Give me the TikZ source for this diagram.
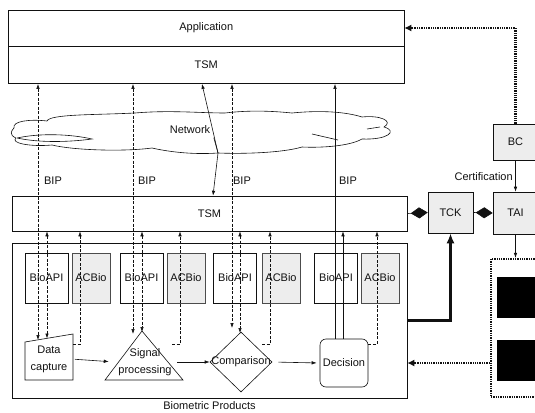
\documentclass[tikz,border=0pt]{standalone}
\usepackage{fontspec}
\setmainfont{Liberation Sans}
\usetikzlibrary{positioning,arrows.meta,calc,shapes.geometric}
\definecolor{speckle}{HTML}{EDEDED}
\definecolor{inkline}{HTML}{111111}

\tikzset{
  every node/.style={font=\fontsize{11}{12}\selectfont},
  layerbox/.style={draw, minimum width=395pt, inner sep=0pt},
  apibox/.style={draw, minimum width=43pt, minimum height=50pt, inner sep=0pt},
  acbox/.style={draw=black!70, fill=speckle, minimum width=38pt, minimum height=50pt, inner sep=0pt},
  keybox/.style={draw, fill=speckle, minimum width=45pt, inner sep=0pt},
  onearrow/.style={-{Latex[length=5pt,width=3.5pt]}},
  twoarrow/.style={{Latex[length=5pt,width=3.5pt]}-{Latex[length=5pt,width=3.5pt]}},
  bipdash/.style={dash pattern=on 3pt off 1.5pt},
  dotline/.style={line width=2.2pt, dash pattern=on 1.3pt off 1pt},
  twoline/.style={align=center, font=\fontsize{11}{17}\selectfont},
}

\begin{document}
\begin{tikzpicture}[x=1pt, y=-1pt, line width=0.6pt, color=inkline]
  \useasboundingbox (0,0) rectangle (535,412);

  % application side
  \node[layerbox, minimum width=395.5pt, minimum height=36pt] (app) at (206.25,28) {Application};
  \node[layerbox, minimum width=395.5pt, minimum height=37pt, below=0pt of app] (tsmup) {TSM};

  % network cloud
  \draw (14,128) .. controls (12,121) and (30,119) .. (47,121)
        .. controls (50,114) and (95,115) .. (135,113)
        .. controls (170,110) and (200,113) .. (225,113)
        .. controls (250,110) and (272,111) .. (292,113)
        .. controls (322,110) and (346,112) .. (362,117)
        .. controls (380,115) and (394,121) .. (384,127)
        .. controls (398,131) and (388,140) .. (362,139)
        .. controls (350,146) and (322,148) .. (302,147)
        .. controls (282,153) and (242,154) .. (218,153)
        .. controls (190,155) and (165,151) .. (152,148)
        .. controls (122,152) and (72,150) .. (52,145)
        .. controls (30,147) and (10,143) .. (16,138)
        .. controls (9,135) and (11,131) .. (14,128) -- cycle;
  \draw (17,138) .. controls (40,133) and (70,134) .. (92,139) .. controls (70,142) and (40,143) .. (17,138);
  \draw (312,134) -- (338,140);
  \draw (367,129) -- (380,127);
  \node (netlbl) at (190,130) {Network};
  \coordinate (netpt) at (218,153);

  % product side
  \node[layerbox, minimum height=35pt] (tsmlow) at (209.5,213.5) {TSM};
  \node[layerbox, minimum height=155pt] (bp) at (209.5,320.5) {};
  \node[below=0pt of bp] (bplabel) {Biometric Products};

  \foreach \i/\xa/\xb in {1/46.5/91, 2/141.5/186, 3/235/281, 4/336/380}{
    \node[apibox] (bio\i) at (\xa,278) {BioAPI};
    \node[acbox] (acb\i) at (\xb,278) {ACBio};
  }

  % processing chain
  \coordinate (dcnw) at (25,342);
  \coordinate (dcne) at (73,334);
  \draw (dcnw) -- (dcne) -- (73,380) -- (25,380) -- cycle;
  \node[twoline] (dc) at (49,359) {Data\\capture};

  \coordinate (sptop) at (142,331);
  \draw (sptop) -- (183,380) -- (105,380) -- cycle;
  \node[twoline] (sp) at (145,362) {Signal\\processing};

  \node[diamond, draw, minimum width=62pt, minimum height=60pt, inner sep=0pt] (cmp) at (241,362) {};
  \node (cmptxt) at (cmp) {Comparison};

  \node[draw, rounded corners=6pt, minimum width=48pt, minimum height=48pt, inner sep=0pt] (dec) at (344,363) {Decision};

  \draw[onearrow, shorten <=4pt, shorten >=6pt] (dc.east) -- (sp.west);
  \draw[onearrow, shorten <=2pt] (sp.east) -- (cmp.west);
  \draw[onearrow, shorten <=6pt, shorten >=3pt] (cmp.east) -- (dec.west);

  % BIP channels
  \foreach \xu/\eu/\xl/\el/\xc/\xe in {38/340/47/338.5/80/73, 133/334/142/332/180/172, 232/328/240/333/270/262}{
    \draw[bipdash, twoarrow] (tsmup.south -| \xu,0) -- (\xu,\eu);
    \draw[bipdash, twoarrow] (tsmlow.south -| \xl,0) -- (\xl,\el);
    \draw[bipdash, onearrow] (\xe,344) -- (\xc,344) -- (tsmlow.south -| \xc,0);
  }
  \draw[onearrow] (dec.north -| 335,0) -- (tsmup.south -| 335,0);
  \draw[onearrow] (dec.north -| 343,0) -- (tsmlow.south -| 343,0);
  \draw[bipdash, onearrow] (dec.east |- 0,344) -- (377,344) -- (tsmlow.south -| 377,0);

  \foreach \x [count=\k] in {53,147,242,348}
    \node (bip\k) at (\x,181) {BIP};

  \draw (netlbl.south east) -- (netpt);
  \draw[onearrow] (netpt) -- (tsmup.south -| 202,0);
  \draw[onearrow] (netpt) -- (tsmlow.north -| 213,0);

  % certification side
  \node[keybox, minimum height=36pt] (bc) at (515.5,142) {BC};
  \node[keybox, minimum height=41pt] (tck) at (450.5,212.5) {TCK};
  \node[keybox, minimum height=42pt] (tai) at (515.5,213) {TAI};
  \node[anchor=east, inner sep=1pt] (certlbl) at (514,177) {Certification};

  \draw[onearrow] (bc.south) -- (tai.north);
  \draw[-{Diamond[length=17pt,width=11pt]}] (tsmlow.east) -- (tck.west);
  \draw[-{Diamond[length=17pt,width=11pt]}] (tck.east) -- (tai.west);
  \draw[line width=2.2pt, -{Latex[length=10pt,width=8pt]}] (bp.east) -| (tck.south);
  \draw[dotline, -{Latex[length=7pt,width=7pt]}] (bc.north) |- (app.east);

  \node[draw, dotline, minimum width=54pt, minimum height=138pt, inner sep=0pt] (panel) at (518,328) {};
  \node[fill=black, minimum width=45pt, minimum height=41pt, inner sep=0pt, anchor=north west] (keyA) at (497,277) {};
  \node[fill=black, minimum width=45pt, minimum height=41pt, inner sep=0pt, anchor=north west] (keyB) at (497,340) {};
  \draw[onearrow] (tai.south) -- (tai.south |- panel.north);
  \draw[dotline, -{Latex[length=7pt,width=7pt]}] (panel.west |- dec) -- (bp.east |- dec);
\end{tikzpicture}
\end{document}
